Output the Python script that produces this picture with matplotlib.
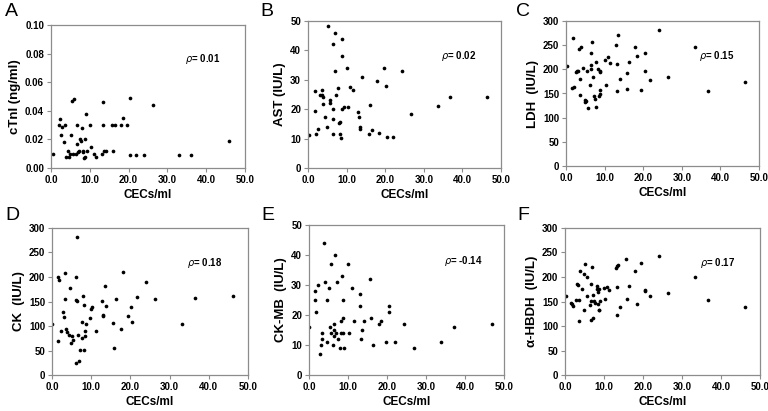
import numpy as np
import matplotlib.pyplot as plt

plt.rcParams['font.family'] = ['Liberation Sans', 'DejaVu Sans']

# panel A: cTnI
a_x = [0.4, 2.0, 2.2, 2.5, 2.9, 3.6, 3.3, 3.8, 4.3, 4.6, 5.0, 5.2, 5.4, 5.8, 5.6, 6.5, 6.7, 6.6,
       7.0, 7.1, 7.4, 7.8, 8.0, 8.2, 8.3, 8.6, 8.8, 8.7, 8.9, 9.2, 10.1, 10.4, 11.0, 11.6, 13.1,
       13.3, 13.4, 13.6, 14.1, 15.8, 16.0, 16.5, 18.0, 18.5, 19.6, 20.3, 20.3, 21.8, 23.9, 26.3,
       33.0, 36.2, 46.0]
a_y = [0.010, 0.030, 0.034, 0.023, 0.029, 0.030, 0.018, 0.008, 0.012, 0.008, 0.010, 0.023, 0.047,
       0.048, 0.010, 0.010, 0.030, 0.017, 0.011, 0.012, 0.020, 0.019, 0.028, 0.011, 0.012, 0.007,
       0.008, 0.020, 0.038, 0.012, 0.030, 0.015, 0.010, 0.008, 0.010, 0.030, 0.046, 0.012, 0.012,
       0.030, 0.012, 0.030, 0.030, 0.035, 0.030, 0.049, 0.009, 0.009, 0.009, 0.044, 0.009, 0.009,
       0.019]

# panel B: AST
b_x = [0.2, 1.9, 1.9, 2.2, 2.7, 3.2, 3.5, 3.7, 3.8, 4.0, 4.4, 4.9, 5.2, 5.6, 5.7, 6.4, 6.6, 6.6,
       6.6, 6.9, 7.1, 7.3, 7.7, 8.1, 8.2, 8.4, 8.5, 8.7, 8.9, 8.9, 9.2, 10.1, 10.3, 11.0, 11.6,
       13.0, 13.3, 13.4, 13.6, 14.1, 15.9, 16.0, 16.6, 18.0, 18.5, 19.7, 20.3, 20.5, 21.9, 24.3,
       26.6, 33.6, 36.8, 46.4]
b_y = [11.3, 19.4, 26.2, 11.5, 13.3, 24.8, 24.8, 26.5, 21.7, 24.3, 17.3, 13.8, 48.2, 23.1, 22.2,
       42.1, 20.1, 16.8, 11.4, 33.0, 46.0, 24.8, 27.1, 15.2, 11.6, 15.7, 10.2, 20.0, 44.0, 38.0,
       20.7, 34.1, 20.7, 27.4, 26.7, 19.0, 17.2, 14.0, 13.1, 30.8, 11.4, 21.4, 12.8, 29.6, 12.0,
       34.1, 27.9, 10.5, 10.7, 33.1, 18.3, 21.1, 24.2, 24.2]

# panel C: LDH
c_x = [0.2, 1.5, 1.8, 2.1, 2.6, 2.9, 3.1, 3.4, 3.6, 3.7, 3.9, 4.3, 4.8, 4.9, 5.2, 5.5, 5.6, 6.2,
       6.4, 6.5, 6.6, 6.8, 7.0, 7.3, 7.5, 7.9, 7.9, 8.2, 8.6, 8.7, 8.8, 8.8, 8.9, 10.0, 10.3, 10.8,
       11.4, 13.0, 13.2, 13.2, 13.5, 13.9, 15.7, 15.9, 16.4, 17.9, 18.5, 19.5, 20.4, 20.5, 21.8,
       24.0, 26.5, 33.4, 36.7, 46.3]
c_y = [207, 161, 264, 163, 194, 196, 197, 242, 179, 146, 246, 202, 137, 132, 135, 197, 119, 168,
       233, 209, 200, 257, 184, 144, 139, 123, 216, 200, 144, 196, 148, 157, 194, 219, 167, 225,
       213, 251, 210, 156, 271, 181, 159, 192, 215, 246, 228, 157, 233, 196, 178, 282, 185, 247,
       155, 174]

# panel D: CK
d_x = [0.0, 1.5, 1.6, 1.8, 2.3, 2.7, 3.0, 3.3, 3.3, 3.5, 3.9, 4.4, 4.5, 4.8, 5.1, 5.3, 6.0, 6.2,
       6.2, 6.3, 6.5, 6.6, 6.8, 7.2, 7.6, 7.7, 7.9, 8.1, 8.2, 8.4, 8.5, 8.7, 9.7, 9.9, 10.3, 11.1,
       12.8, 13.1, 13.1, 13.4, 13.8, 15.5, 15.9, 16.3, 17.7, 18.2, 19.5, 20.2, 20.3, 21.8, 24.0,
       26.4, 33.2, 36.5, 46.2]
d_y = [104, 70, 200, 193, 90, 128, 118, 156, 208, 94, 87, 82, 177, 65, 79, 72, 24, 200, 153, 151,
       282, 82, 28, 51, 75, 108, 161, 52, 143, 80, 90, 104, 117, 134, 139, 90, 152, 123, 120, 182,
       140, 106, 56, 155, 94, 210, 121, 138, 108, 160, 189, 156, 104, 158, 162]

# panel E: CK-MB
e_x = [0.0, 1.5, 1.6, 1.9, 2.4, 2.9, 3.2, 3.4, 3.4, 3.8, 4.1, 4.5, 4.7, 5.0, 5.4, 5.6, 5.7, 6.2,
       6.4, 6.4, 6.5, 6.7, 7.0, 7.2, 7.4, 7.9, 8.1, 8.2, 8.5, 8.6, 8.7, 8.8, 8.9, 10.0, 10.3, 10.9,
       11.5, 13.0, 13.2, 13.3, 13.5, 14.0, 15.7, 16.0, 16.5, 18.0, 18.5, 19.7, 20.5, 20.5, 22.0,
       24.3, 26.8, 33.8, 37.1, 47.0]
e_y = [16, 28, 25, 21, 30, 7, 10, 14, 12, 44, 31, 25, 11, 29, 16, 37, 14, 10, 17, 15, 13, 40, 14,
       31, 12, 9, 14, 18, 33, 14, 25, 19, 9, 37, 14, 29, 18, 27, 23, 12, 15, 18, 32, 19, 10, 17,
       18, 11, 23, 21, 11, 17, 9, 11, 16, 17]

# panel F: alpha-HBDH
f_x = [0.2, 1.6, 1.8, 2.1, 2.7, 3.2, 3.3, 3.7, 3.7, 3.9, 4.4, 4.8, 4.9, 5.1, 5.6, 5.6, 6.3, 6.6,
       6.6, 6.7, 6.8, 7.1, 7.3, 7.4, 7.8, 8.1, 8.3, 8.4, 8.5, 8.6, 8.8, 8.9, 8.8, 10.1, 10.3, 10.8,
       11.4, 13.0, 13.3, 13.3, 13.3, 13.5, 14.0, 15.7, 16.0, 16.4, 17.9, 18.4, 19.6, 20.5, 20.5,
       21.9, 24.0, 26.5, 33.3, 36.7, 46.2]
f_y = [162, 147, 145, 140, 153, 186, 183, 154, 110, 213, 176, 206, 132, 226, 200, 162, 142, 152,
       186, 112, 220, 163, 116, 151, 147, 175, 181, 145, 169, 133, 133, 152, 175, 178, 156, 179,
       173, 218, 222, 179, 122, 224, 139, 236, 155, 181, 213, 144, 228, 173, 171, 162, 242, 168,
       201, 153, 138]

panels = [
    ('A', a_x, a_y, 'cTnI (ng/ml)', (0, 0.1, 0.02), '%.2f', '0.01'),
    ('B', b_x, b_y, 'AST (IU/L)', (0, 50, 10), '%d', '0.02'),
    ('C', c_x, c_y, 'LDH  (IU/L)', (0, 300, 50), '%d', '0.15'),
    ('D', d_x, d_y, 'CK  (IU/L)', (0, 300, 50), '%d', '0.18'),
    ('E', e_x, e_y, 'CK-MB  (IU/L)', (0, 50, 10), '%d', '-0.14'),
    ('F', f_x, f_y, '\u03b1-HBDH  (IU/L)', (0, 300, 50), '%d', '0.17'),
]
x_ticks = [0, 10, 20, 30, 40, 50]

# axes boxes in pixels: left, top, right, bottom
boxes = [(51, 25, 245, 168), (308, 21, 501, 168), (566, 21, 759, 166),
         (52, 228, 248, 375), (309, 225, 504, 375), (565, 228, 760, 375)]
letter_pos = [(5, 3), (260, 3), (516, 3), (5, 207), (261, 207), (517, 207)]

W, H = 768, 411
fig = plt.figure(figsize=(W / 100, H / 100), dpi=100)
gray = '#8c8c8c'

for (lab, xs, ys, ylab, yr, yfmt, rho), (l, t, r, b), (lx, ly) in zip(panels, boxes, letter_pos):
    ax = fig.add_axes([l / W, 1 - b / H, (r - l) / W, (b - t) / H])
    ax.scatter(xs, ys, s=7, color='black', linewidths=0)
    yt = np.arange(yr[0], yr[1] + yr[2] / 2, yr[2])
    ax.set_xticks(x_ticks, ['%.1f' % v for v in x_ticks], fontweight='bold', fontsize=7)
    ax.set_yticks(yt, [yfmt % v for v in yt], fontweight='bold', fontsize=7)
    ax.set_xlim(0, 50)
    ax.set_ylim(yr[0], yr[1])
    for sp in ax.spines.values():
        sp.set_color(gray)
        sp.set_linewidth(0.9)
    ax.tick_params(direction='out', length=3, width=0.8, color=gray, pad=2)
    ax.set_xlabel('CECs/ml', fontsize=8.5, fontweight='bold', labelpad=3)
    ax.set_ylabel(ylab, fontsize=9.5, fontweight='bold', labelpad=3)
    ax.text(0.69, 0.76, r'$\rho$' + '= ' + rho, transform=ax.transAxes, fontsize=7,
            fontweight='bold', va='center', ha='left')
    fig.text(lx / W, 1 - ly / H, lab, fontsize=14, va='top', ha='left')

fig.savefig('out.png', dpi=100)
